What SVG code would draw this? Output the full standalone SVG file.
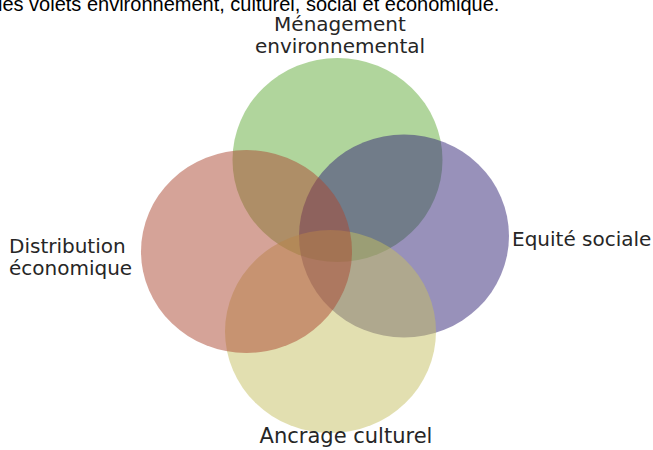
<svg xmlns="http://www.w3.org/2000/svg" width="653" height="450" viewBox="0 0 653 450">
<style>
.c{fill-opacity:0.5;stroke:none}
.lbl{font-family:"DejaVu Sans",Verdana,sans-serif;font-size:20px;fill:#262626}
.title{font-family:"Liberation Sans",Arial,sans-serif;font-size:20px;fill:#000}
</style>
<rect width="653" height="450" fill="#fff"/>
<text class="title" x="-2" y="11">les volets environnement, culturel, social et économique.</text>
<g id="menagement">
<ellipse class="c" cx="337.5" cy="160" rx="105" ry="102" fill="#61ab39"/>
<text class="lbl" x="340" y="31" text-anchor="middle">Ménagement</text>
<text class="lbl" x="340" y="53" text-anchor="middle">environnemental</text>
</g>
<g id="equite">
<ellipse class="c" cx="404" cy="236" rx="105" ry="101.5" fill="#312375"/>
<text class="lbl" x="512" y="246">Equité sociale</text>
</g>
<g id="ancrage">
<ellipse class="c" cx="330.5" cy="331.5" rx="105.5" ry="101.5" fill="#c5bf61"/>
<text class="lbl" x="346" y="443" text-anchor="middle" style="font-size:21px">Ancrage culturel</text>
</g>
<g id="distribution">
<ellipse class="c" cx="246.5" cy="251.5" rx="105.5" ry="101.5" fill="#ab4731"/>
<text class="lbl" x="9" y="253">Distribution</text>
<text class="lbl" x="9" y="275">économique</text>
</g>
<g id="connectors"/>
</svg>
